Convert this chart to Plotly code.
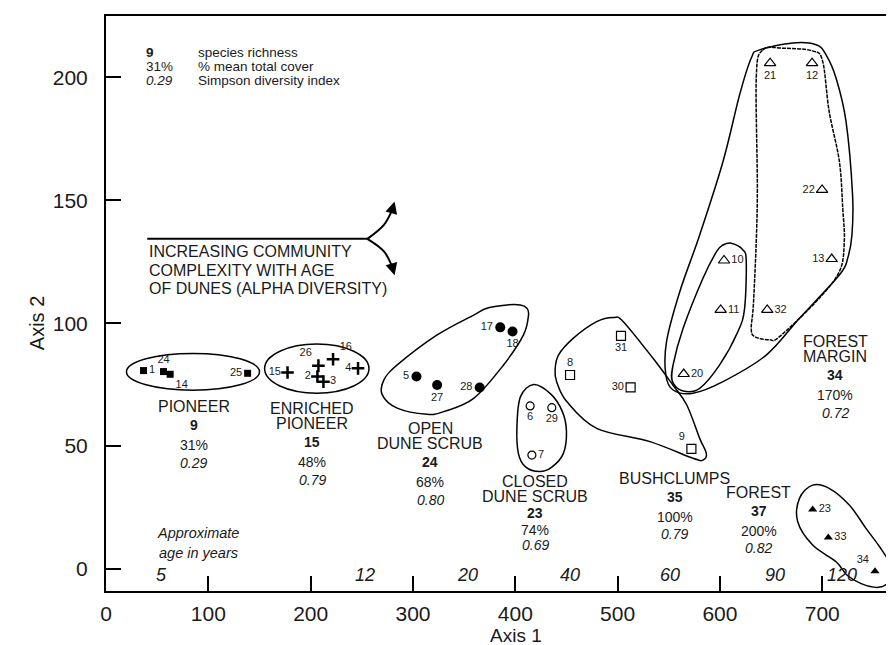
import plotly.graph_objects as go

FONT = "Liberation Sans, Arial, sans-serif"
INK = "#1a1a1a"

# ---------------- data ----------------
pioneer_ids = ["1", "24", "14", "25"]
pioneer_x = [36.7, 56.2, 62.7, 138.4]
pioneer_y = [80.7, 80.3, 79.2, 79.6]

enriched_ids = ["15", "26", "16", "2", "3", "4"]
enriched_x = [177.4, 207.6, 221.9, 206.6, 212.5, 246.3]
enriched_y = [79.9, 82.7, 85.3, 78.3, 76.2, 81.6]

open_ids = ["5", "27", "28", "17", "18"]
open_x = [303.4, 323.6, 365.2, 385.3, 397.3]
open_y = [78.3, 74.8, 73.8, 98.3, 96.6]

closed_ids = ["6", "29", "7"]
closed_x = [414.5, 435.7, 416.2]
closed_y = [66.3, 65.6, 46.3]

bush_ids = ["31", "8", "30", "9"]
bush_x = [503.3, 453.5, 512.7, 572.1]
bush_y = [94.8, 78.9, 73.9, 48.8]

margin_ids = ["21", "12", "22", "13", "10", "11", "32", "20"]
margin_x = [649.0, 690.0, 699.8, 709.2, 604.0, 600.7, 646.2, 564.6]
margin_y = [205.8, 205.8, 154.2, 126.1, 125.5, 105.4, 105.4, 79.3]

forest_ids = ["23", "33", "34"]
forest_x = [690.6, 705.9, 751.5]
forest_y = [24.2, 12.8, -1.0]

group_names = [["PIONEER"], ["ENRICHED", "PIONEER"], ["OPEN", "DUNE SCRUB"],
               ["CLOSED", "DUNE SCRUB"], ["BUSHCLUMPS"], ["FOREST"], ["FOREST", "MARGIN"]]
richness = [9, 15, 24, 23, 35, 37, 34]
cover_pct = [31, 48, 68, 74, 100, 200, 170]
simpson = ["0.29", "0.79", "0.80", "0.69", "0.79", "0.82", "0.72"]

age_labels = ["5", "12", "20", "40", "60", "90", "120"]
age_x = [54.5, 253, 353.5, 453.5, 551, 653.5, 719.5]

x_ticks = [0, 100, 200, 300, 400, 500, 600, 700]
y_ticks = [0, 50, 100, 150, 200]

# group hull outlines (data space)
hull_open = [(411.3, 106.1), (404.8, 107.4), (391.8, 107.4), (372.3, 106.1), (359.3, 103.3),
             (323.6, 95.2), (284.6, 83.0), (271.6, 76.9), (270.0, 70.8), (284.6, 65.4),
             (313.8, 62.9), (330.0, 64.0), (359.3, 69.4), (388.5, 83.0), (408.0, 95.2),
             (412.9, 103.3)]
hull_closed = [(418.0, 75.0), (435.0, 71.0), (446.0, 64.0), (450.0, 56.0), (447.0, 47.0),
               (436.0, 41.5), (424.0, 39.6), (410.0, 41.5), (403.0, 47.0), (401.6, 58.0),
               (405.0, 70.0)]
hull_bush = [(438.9, 80.9), (442.2, 87.0), (456.8, 93.9), (479.5, 100.6), (495.8, 102.3),
             (505.5, 100.6), (534.6, 85.7), (554.0, 74.8), (567.6, 66.7), (580.2, 53.1),
             (586.7, 47.0), (583.4, 44.3), (573.7, 45.0), (531.5, 51.8), (479.5, 57.2),
             (450.3, 68.1), (440.4, 76.2)]
hull_margin_outer = [(630.6, 207.9), (638.7, 211.2), (671.2, 214.0), (694.0, 213.3),
                     (703.7, 209.2), (713.5, 199.7), (723.2, 182.1), (729.6, 152.2),
                     (729.0, 135.9), (724.8, 126.4), (716.7, 119.6), (677.7, 102.0),
                     (645.2, 87.0), (603.0, 76.2), (573.7, 71.5), (554.2, 72.8),
                     (547.1, 78.9), (547.8, 92.5), (560.8, 112.9), (580.2, 135.9),
                     (603.0, 165.8), (619.2, 192.9)]
hull_margin_upper = [(641.9, 211.2), (661.4, 211.9), (690.6, 210.8), (700.4, 206.5),
                     (706.7, 186.2), (716.7, 165.8), (720.0, 146.8), (721.5, 133.2),
                     (716.7, 121.0), (694.0, 108.8), (658.2, 94.5), (648.5, 93.2),
                     (633.9, 94.5), (630.6, 98.0), (633.0, 110.0), (636.5, 150.0),
                     (635.5, 200.0)]
hull_margin_lower = [(603.0, 131.8), (611.1, 132.5), (622.5, 129.8), (625.7, 125.1),
                     (624.1, 106.1), (617.6, 96.6), (599.7, 83.0), (580.2, 73.5),
                     (564.0, 72.4), (553.6, 76.2), (554.2, 83.0), (564.0, 97.9),
                     (583.4, 118.3), (596.8, 129.2)]
hull_forest = [(690.6, 34.1), (706.7, 32.8), (726.4, 26.0), (742.7, 16.5), (756.0, 9.0),
               (766.0, 2.0), (766.0, -4.5), (755.0, -7.5), (738.0, -6.0), (724.0, -2.5),
               (713.5, 2.9), (690.6, 9.7), (676.0, 19.2), (677.7, 28.7)]
ell_pioneer = (20.0, 150.0, 72.7, 87.7)
ell_enriched = (155.0, 257.0, 71.5, 91.5)

# label layout (positions, not data)
label_x = [85.8, 201.8, 317.0, 419.4, 555.9, 638.0, 712.5]
label_top = [66.0, 65.3, 57.2, 35.5, 36.8, 31.1, 92.6]
label_scale = [1.0, 1.0, 1.0, 0.86, 1.0, 1.0, 1.0]


def closed_path(pts):
    n = len(pts)
    d = "M %.2f,%.2f" % pts[0]
    for i in range(n):
        p0 = pts[(i - 1) % n]
        p1 = pts[i]
        p2 = pts[(i + 1) % n]
        p3 = pts[(i + 2) % n]
        c1 = (p1[0] + (p2[0] - p0[0]) / 6, p1[1] + (p2[1] - p0[1]) / 6)
        c2 = (p2[0] - (p3[0] - p1[0]) / 6, p2[1] - (p3[1] - p1[1]) / 6)
        d += " C %.2f,%.2f %.2f,%.2f %.2f,%.2f" % (c1 + c2 + p2)
    return d + " Z"


fig = go.Figure()


def add_group(xs, ys, ids, symbol, size, pos, lw=0):
    fig.add_trace(go.Scatter(
        x=xs, y=ys, text=ids, mode="markers+text", textposition=pos,
        marker=dict(symbol=symbol, size=size, color="black",
                    line=dict(color="black", width=lw)),
        textfont=dict(family=FONT, size=11, color=INK),
        cliponaxis=False, hoverinfo="skip", showlegend=False))


add_group(pioneer_x, pioneer_y, pioneer_ids, "square", 7,
          ["middle right", "top center", "bottom right", "middle left"])
add_group(enriched_x, enriched_y, enriched_ids, "cross-thin", 9,
          ["middle left", "top left", "top right", "middle left", "middle right", "middle left"], lw=2.5)
add_group(open_x, open_y, open_ids, "circle", 10,
          ["middle left", "bottom center", "middle left", "middle left", "bottom center"])
add_group(closed_x, closed_y, closed_ids, "circle-open", 8,
          ["bottom center", "bottom center", "middle right"], lw=1.2)
add_group(bush_x, bush_y, bush_ids, "square-open", 9,
          ["bottom center", "top center", "middle left", "top left"], lw=1.2)
add_group(margin_x, margin_y, margin_ids, "triangle-up-open", 10,
          ["bottom center", "bottom center", "middle left", "middle left",
           "middle right", "middle right", "middle right", "middle right"], lw=1.2)
add_group(forest_x, forest_y, forest_ids, "triangle-up", 8,
          ["middle right", "middle right", "top left"])

shapes = []
for hull, dash in [(hull_open, "solid"), (hull_closed, "solid"), (hull_bush, "solid"),
                   (hull_margin_outer, "solid"), (hull_margin_upper, "4px,1px"),
                   (hull_margin_lower, "solid"), (hull_forest, "solid")]:
    shapes.append(dict(type="path", xref="x", yref="y", path=closed_path(hull),
                       line=dict(color="black", width=1.5, dash=dash)))
for e in [ell_pioneer, ell_enriched]:
    shapes.append(dict(type="circle", xref="x", yref="y", x0=e[0], x1=e[1], y0=e[2], y1=e[3],
                       line=dict(color="black", width=1.5)))

# curved arrow
arrow_main_x = [40.3, 255.4]
arrow_main_y = [134.3, 134.3]
arrow_up = [(255.4, 134.3), (271.6, 140.0), (279.7, 146.1)]
arrow_dn = [(255.4, 134.3), (271.6, 129.2), (279.7, 123.0)]
fig.add_trace(go.Scatter(x=arrow_main_x, y=arrow_main_y, mode="lines",
                         line=dict(color="black", width=2), hoverinfo="skip", showlegend=False))
for br in (arrow_up, arrow_dn):
    fig.add_trace(go.Scatter(x=[p[0] for p in br], y=[p[1] for p in br], mode="lines",
                             line=dict(color="black", width=2, shape="spline"),
                             hoverinfo="skip", showlegend=False))

annotations = []
for br, tip in ((arrow_up, (282.0, 149.5)), (arrow_dn, (282.0, 119.5))):
    annotations.append(dict(x=tip[0], y=tip[1], ax=br[-1][0], ay=br[-1][1], xref="x", yref="y",
                            axref="x", ayref="y", showarrow=True, arrowhead=2, arrowsize=1.2,
                            arrowwidth=2, arrowcolor="black", text=""))


def txt(x, y, s, size, xanchor="center", xref="x", yref="y", **kw):
    annotations.append(dict(x=x, y=y, text=s, xref=xref, yref=yref, showarrow=False,
                            xanchor=xanchor, yanchor="middle",
                            font=dict(family=FONT, size=size, color=INK), **kw))


for line, yy in zip(["INCREASING COMMUNITY", "COMPLEXITY WITH AGE", "OF DUNES (ALPHA DIVERSITY)"],
                    [129.2, 121.4, 114.0]):
    txt(40.5, yy, line, 16, xanchor="left")

# key
key_vals = ["<b>%d</b>" % richness[0], "%d%%" % cover_pct[0], "<i>%s</i>" % simpson[0]]
key_desc = ["species richness", "% mean total cover", "Simpson diversity index"]
for i, (v, dsc) in enumerate(zip(key_vals, key_desc)):
    yy = 210.2 - 5.8 * i
    txt(37.0, yy, v, 13.5, xanchor="left")
    txt(87.5, yy, dsc, 13.5, xanchor="left")

# group labels
for names, r, c, s, lx, top, sc in zip(group_names, richness, cover_pct, simpson,
                                       label_x, label_top, label_scale):
    yy = top
    for k, nm in enumerate(names):
        if k:
            yy -= 6.2
        txt(lx, yy, nm, 16)
    yy -= 7.6 * sc
    txt(lx, yy, "<b>%d</b>" % r, 14)
    yy -= 7.9 * sc
    txt(lx, yy, "%d%%" % c, 14)
    yy -= 7.3 * sc
    txt(lx, yy, "<i>%s</i>" % s, 14)

# ages
txt(90, 14.5, "<i>Approximate</i>", 14.5)
txt(90, 6.3, "<i>age in years</i>", 14.5)
for a, ax_ in zip(age_labels, age_x):
    txt(ax_, -2.5, "<i>%s</i>" % a, 18)

# axis titles
annotations.append(dict(x=401, y=0, xref="x", yref="paper", yshift=-44, text="Axis 1",
                        showarrow=False, xanchor="center", yanchor="middle",
                        font=dict(family=FONT, size=19, color=INK)))
annotations.append(dict(x=0, y=100, xref="paper", yref="y", xshift=-69, text="Axis 2",
                        textangle=-90, showarrow=False, xanchor="center", yanchor="middle",
                        font=dict(family=FONT, size=20, color=INK)))

axis_common = dict(showline=True, linewidth=2, linecolor="black", mirror=True,
                   ticks="inside", ticklen=15, tickwidth=1.5, tickcolor="black",
                   showgrid=False, zeroline=False,
                   tickfont=dict(family=FONT, size=21, color=INK))

fig.update_layout(
    width=894, height=645,
    margin=dict(l=98, r=2, t=8, b=62),
    paper_bgcolor="white", plot_bgcolor="white",
    xaxis=dict(range=[0, 774], tickvals=x_ticks, ticklabelstandoff=3, **axis_common),
    yaxis=dict(range=[-9, 225], tickvals=y_ticks, ticklabelstandoff=12, **axis_common),
    shapes=shapes, annotations=annotations, showlegend=False,
)

fig.write_html("out.html")
